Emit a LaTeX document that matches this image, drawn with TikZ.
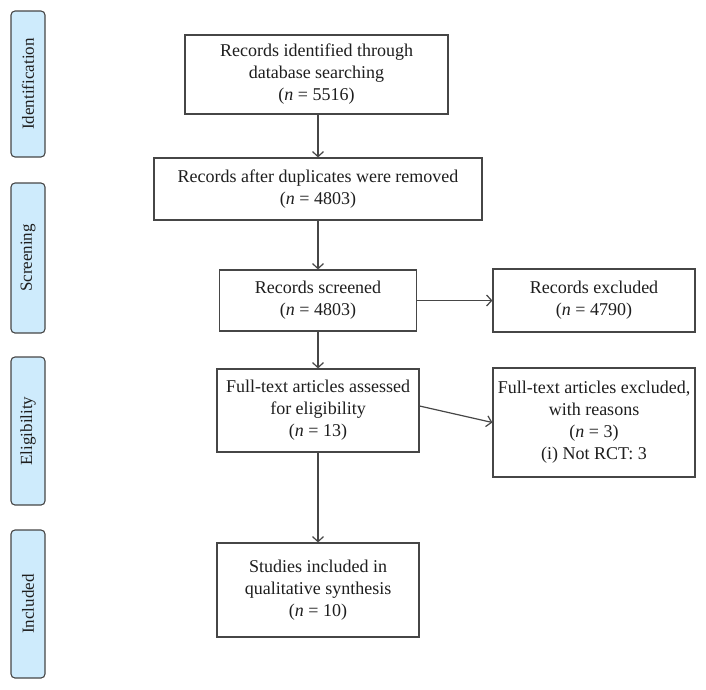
\documentclass[tikz,border=0pt]{standalone}
\usepackage{fontspec}
\setmainfont{Liberation Serif}
\usetikzlibrary{arrows.meta}
\definecolor{sidefill}{RGB}{206,235,252}
\definecolor{edgegray}{RGB}{70,70,70}
\definecolor{txt}{RGB}{30,30,30}
\begin{document}
\begin{tikzpicture}[x=1pt,y=-1pt,
  box/.style={draw=edgegray,line width=1.2pt,fill=white,align=center,inner sep=0pt,
    font=\fontsize{18}{22}\selectfont,text=txt},
  side/.style={draw=edgegray,line width=1.1pt,fill=sidefill,rounded corners=4pt,
    minimum width=34pt,inner sep=0pt},
  sidetext/.style={rotate=90,font=\fontsize{17}{20}\selectfont,text=txt},
  arr/.style={draw=edgegray,line width=1.2pt,-{Straight Barb[length=5pt,width=11pt]}}]
\useasboundingbox (0,0) rectangle (706,689);
% side labels
\node[side,minimum height=146pt] (sid) at (28,84) {};
\node[sidetext] (tid) at (sid.center) {Identification};
\node[side,minimum height=150pt] (ssc) at (28,258) {};
\node[sidetext] (tsc) at (ssc.center) {Screening};
\node[side,minimum height=148pt] (sel) at (28,431) {};
\node[sidetext] (tel) at (sel.center) {Eligibility};
\node[side,minimum height=148pt] (sin) at (28,604) {};
\node[sidetext] (tin) at (sin.center) {Included};
% boxes
\node[box,minimum width=263pt,minimum height=79pt] (b1) at (316.5,74.5)
  {Records identified through\\database searching\\(\textit{n} = 5516)};
\node[box,minimum width=328pt,minimum height=62pt] (b2) at (318,189)
  {Records after duplicates were removed\\(\textit{n} = 4803)};
\node[box,minimum width=197pt,minimum height=61pt] (b3) at (318,300.5)
  {Records screened\\(\textit{n} = 4803)};
\node[box,minimum width=202pt,minimum height=63pt] (e1) at (594,300.5)
  {Records excluded\\(\textit{n} = 4790)};
\node[box,minimum width=202pt,minimum height=83pt] (b4) at (318,410.5)
  {Full-text articles assessed\\for eligibility\\(\textit{n} = 13)};
\node[box,minimum width=202pt,minimum height=109pt] (e2) at (594,422.5)
  {Full-text articles excluded,\\with reasons\\(\textit{n} = 3)\\(i) Not RCT: 3};
\node[box,minimum width=202pt,minimum height=94pt] (b5) at (318,590)
  {Studies included in\\qualitative synthesis\\(\textit{n} = 10)};
% connectors
\draw[arr] (b2.north |- b1.south) -- (b2.north);
\draw[arr] (b2.south) -- (b3.north);
\draw[arr] (b3.south) -- (b4.north);
\draw[arr] (b4.south) -- (b5.north);
\draw[arr] (b3.east) -- (e1.west);
\draw[arr] ([yshift=4.5pt]b4.east) -- (e2.west);
\end{tikzpicture}
\end{document}
